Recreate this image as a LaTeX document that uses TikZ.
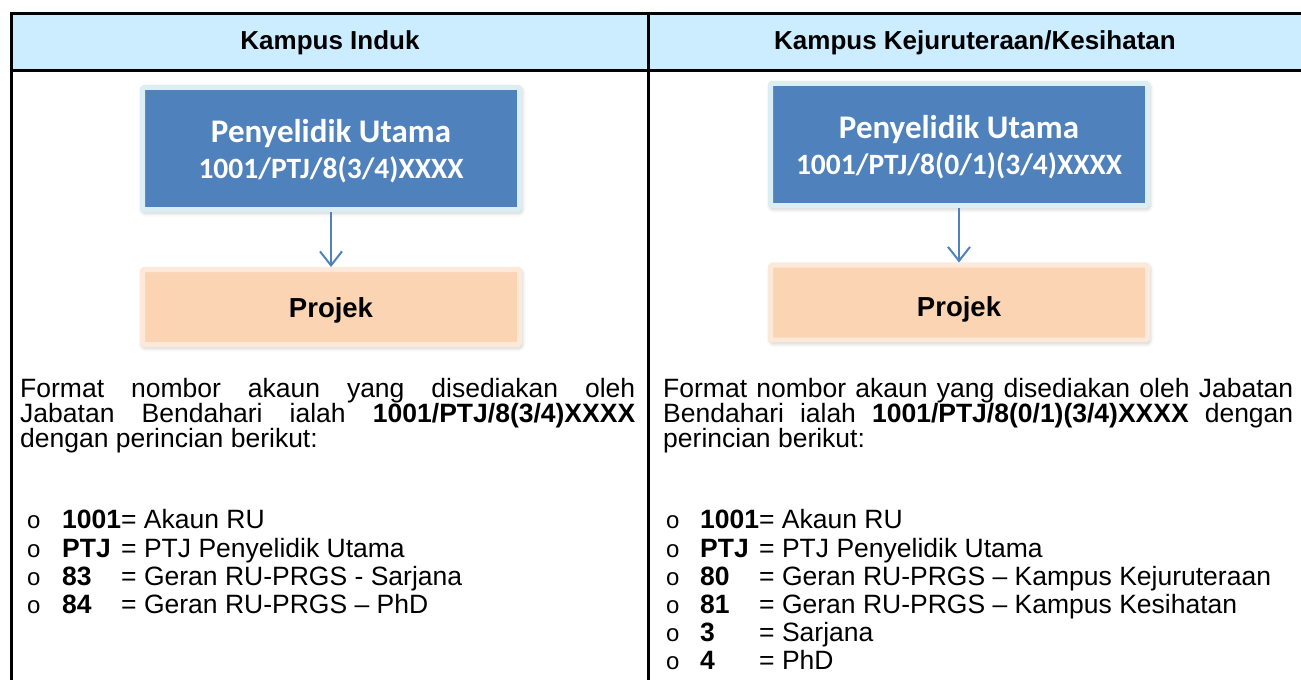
\documentclass[tikz,border=0pt]{standalone}
\usepackage{fontspec}
\setmainfont{Liberation Sans}
\newfontfamily\calibri{Carlito}
\usetikzlibrary{arrows.meta,shadows.blur}
\definecolor{hdrfill}{HTML}{CCECFF}
\definecolor{piblue}{HTML}{4F81BD}
\definecolor{pilite}{HTML}{DBEEF4}
\definecolor{pjfill}{HTML}{FBD4B4}
\definecolor{pjlite}{HTML}{FDE9D9}
\tikzset{
  tbl/.style={line width=3bp,black},
  hdr/.style={font=\fontsize{26bp}{28bp}\selectfont\bfseries,inner sep=0pt},
  pibox/.style={rectangle,fill=piblue,draw=pilite,line width=5bp,rounded corners=1.5bp,
    minimum width=377bp,minimum height=122bp,
    blur shadow={shadow xshift=1bp,shadow yshift=-2bp,shadow blur radius=5bp,shadow opacity=35}},
  pjbox/.style={rectangle,fill=pjfill,draw=pjlite,line width=5bp,rounded corners=1.5bp,
    minimum width=377bp,minimum height=75bp,
    blur shadow={shadow xshift=1bp,shadow yshift=-2bp,shadow blur radius=5bp,shadow opacity=35}},
  pitext/.style={text=white,align=center,inner sep=0pt,
    font=\calibri\bfseries\fontsize{33bp}{36bp}\selectfont},
  pjtext/.style={inner sep=0pt,font=\fontsize{27.5bp}{32bp}\selectfont\bfseries},
  arr/.style={piblue,line width=2bp,-{Straight Barb[length=14bp,width=22bp,line width=2bp]}},
  body/.style={anchor=base west,inner sep=0pt,font=\fontsize{26.5bp}{27bp}\selectfont},
  bul/.style={anchor=base west,inner sep=0pt,font=\fontsize{24bp}{25bp}\selectfont},
}
\begin{document}
\begin{tikzpicture}[x=1bp,y=-1bp]
\useasboundingbox (0,0) rectangle (1301,680);
% table
\fill[hdrfill] (11,14) rectangle (1301,71);
\draw[tbl] (1301,14) -- (11,14) -- (11,680);
\draw[tbl] (11,71) -- (1301,71);
\draw[tbl] (648,14) -- (648,680);
\node[hdr] (h1) at (330,42.5) {Kampus Induk};
\node[hdr] (h2) at (975,42.5) {Kampus Kejuruteraan/Kesihatan};
% left diagram
\node[pibox] (pl) at (331,148.5) {};
\node[pitext] (plt) at (331,151) {Penyelidik Utama\\{\fontsize{29.5bp}{30bp}\selectfont 1001/PTJ/8(3/4)XXXX}};
\node[pjbox] (jl) at (331,307) {};
\node[pjtext] (jlt) at (331,310.5) {Projek};
\draw[arr] (pl.south) -- (jl.north);
% right diagram
\node[pibox] (pr) at (959,144.5) {};
\node[pitext] (prt) at (959,147) {Penyelidik Utama\\{\fontsize{29.5bp}{30bp}\selectfont 1001/PTJ/8(0/1)(3/4)XXXX}};
\node[pjbox] (jr) at (959,302.5) {};
\node[pjtext] (jrt) at (959,309) {Projek};
\draw[arr] (pr.south) -- (jr.north);
% left text
\node[body] (la) at (20,397) {\makebox[615bp][s]{Format nombor akaun yang disediakan oleh}};
\node[body] (lb) at (20,422) {\makebox[615bp][s]{Jabatan Bendahari ialah \textbf{1001/PTJ/8(3/4)XXXX}}};
\node[body] (lc) at (20,447) {dengan perincian berikut:};
\node[bul] (lo1) at (27,528) {o};
\node[bul] (lo2) at (27,557) {o};
\node[bul] (lo3) at (27,585) {o};
\node[bul] (lo4) at (27,613) {o};
\node[body] (lk1) at (62,528) {\textbf{1001}= Akaun RU};
\node[body] (lk2) at (62,557) {\textbf{PTJ}};
\node[body] (le2) at (121,557) {= PTJ Penyelidik Utama};
\node[body] (lk3) at (62,585) {\textbf{83}};
\node[body] (le3) at (121,585) {= Geran RU-PRGS - Sarjana};
\node[body] (lk4) at (62,613) {\textbf{84}};
\node[body] (le4) at (121,613) {= Geran RU-PRGS – PhD};
% right text
\node[body] (ra) at (663,397) {\makebox[630bp][s]{Format nombor akaun yang disediakan oleh Jabatan}};
\node[body] (rb) at (663,422) {\makebox[630bp][s]{Bendahari ialah \textbf{1001/PTJ/8(0/1)(3/4)XXXX} dengan}};
\node[body] (rc) at (663,447) {perincian berikut:};
\node[bul] (ro1) at (666,528) {o};
\node[bul] (ro2) at (666,557) {o};
\node[bul] (ro3) at (666,585) {o};
\node[bul] (ro4) at (666,613) {o};
\node[bul] (ro5) at (666,641) {o};
\node[bul] (ro6) at (666,669) {o};
\node[body] (rk1) at (700,528) {\textbf{1001}= Akaun RU};
\node[body] (rk2) at (700,557) {\textbf{PTJ}};
\node[body] (re2) at (759,557) {= PTJ Penyelidik Utama};
\node[body] (rk3) at (700,585) {\textbf{80}};
\node[body] (re3) at (759,585) {= Geran RU-PRGS – Kampus Kejuruteraan};
\node[body] (rk4) at (700,613) {\textbf{81}};
\node[body] (re4) at (759,613) {= Geran RU-PRGS – Kampus Kesihatan};
\node[body] (rk5) at (700,641) {\textbf{3}};
\node[body] (re5) at (759,641) {= Sarjana};
\node[body] (rk6) at (700,669) {\textbf{4}};
\node[body] (re6) at (759,669) {= PhD};
\end{tikzpicture}
\end{document}
